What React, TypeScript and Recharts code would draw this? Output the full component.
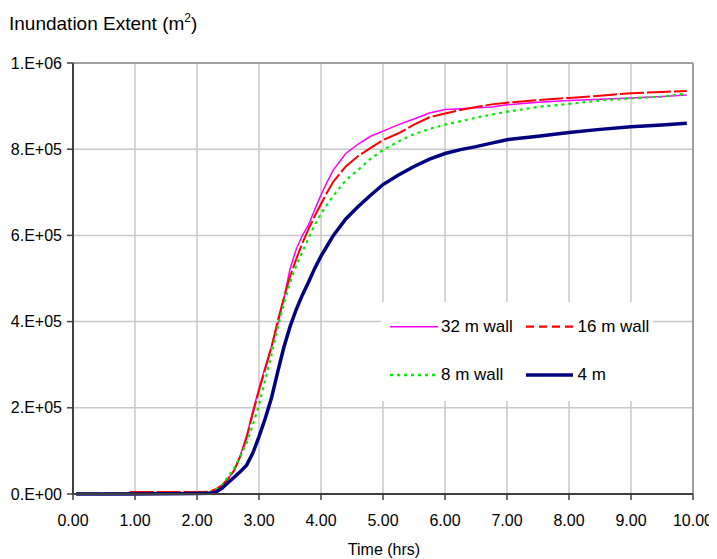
import React from 'react';
import { LineChart, Line, XAxis, YAxis, CartesianGrid, ReferenceLine } from 'recharts';

const times = [0.05, 0.5, 0.85, 0.9, 1.5, 2.0, 2.2,
  2.3, 2.4, 2.5, 2.6, 2.7, 2.8, 2.9, 3.0, 3.1, 3.2, 3.3, 3.4, 3.5, 3.6, 3.7, 3.8, 3.9, 4.0, 4.1,
  4.2, 4.4, 4.6, 4.8, 5.0,
  5.25, 5.5, 5.75, 6.0, 6.25, 6.5, 6.75, 7.0,
  7.5, 8.0, 8.5, 9.0, 9.5, 9.9];

const wall32 = [1000, 1000, 1500, 1500, 2000, 2500, 4000,
  10000, 20000, 35000, 55000, 90000, 135000, 192000, 245000, 295000, 342000, 392000, 452000, 522000, 568000, 600000, 625000, 660000, 694000, 724000,
  752000, 790000, 812000, 830000, 842000,
  857000, 870000, 884000, 892000, 894000, 896000, 898000, 903000,
  909000, 913000, 916000, 919000, 922000, 926000];

const wall16 = [1000, 1000, 1000, 4500, 4500, 4500, 5500,
  11000, 20000, 35000, 55000, 88000, 130000, 187000, 240000, 290000, 340000, 400000, 455000, 504000, 545000, 582000, 615000, 645000, 673000, 700000,
  725000, 760000, 784000, 803000, 821000,
  837000, 857000, 874000, 883000, 891000, 898000, 904000, 908000,
  914000, 919000, 924000, 930000, 933000, 935000];

const wall8 = [1500, 1500, 1500, 1500, 2000, 2500, 4000,
  10000, 20000, 40000, 60000, 88000, 118000, 160000, 207000, 265000, 322000, 385000, 440000, 490000, 530000, 562000, 594000, 625000, 650000, 672000,
  692000, 728000, 752000, 778000, 798000,
  818000, 835000, 847000, 857000, 865000, 873000, 880000, 887000,
  898000, 905000, 913000, 918000, 922000, 929000];

const wall4 = [0, 0, 0, 0, 500, 1000, 1500,
  4000, 13000, 26000, 39000, 52000, 67000, 95000, 133000, 175000, 222000, 282000, 340000, 388000, 428000, 462000, 492000, 524000, 552000, 576000,
  600000, 638000, 667000, 693000, 718000,
  740000, 760000, 777000, 790000, 799000, 806000, 814000, 822000,
  830000, 839000, 846000, 852000, 856000, 860000];

const xTicks = [0, 1, 2, 3, 4, 5, 6, 7, 8, 9, 10];
const xTickLabels = ['0.00', '1.00', '2.00', '3.00', '4.00', '5.00', '6.00', '7.00', '8.00', '9.00', '10.00'];
const yTicks = [0, 200000, 400000, 600000, 800000, 1000000];
const yTickLabels = ['0.E+00', '2.E+05', '4.E+05', '6.E+05', '8.E+05', '1.E+06'];

const seriesNames = ['32 m wall', '16 m wall', '8 m wall', '4 m'];

const data = times.map((t, i) => ({
  t,
  w32: wall32[i],
  w16: wall16[i],
  w8: wall8[i],
  w4: wall4[i],
}));

const FONT = '"Liberation Sans", Arial, Helvetica, sans-serif';
const AXIS = '#404040';

export default function App() {
  return (
    <div style={{ position: 'relative', width: 709, height: 551, fontFamily: FONT }}>
      <LineChart width={709} height={551} data={data} margin={{ top: 55, right: 24, left: 0, bottom: 0 }}>
        <CartesianGrid stroke="#c8c8c8" strokeWidth={1.5} />
        <ReferenceLine y={1000000} stroke="#a0a0a0" strokeWidth={2} />
        <ReferenceLine x={10} stroke="#a0a0a0" strokeWidth={2} />
        <XAxis
          dataKey="t"
          type="number"
          domain={[0, 10]}
          ticks={xTicks}
          tickFormatter={(v: number) => xTickLabels[xTicks.indexOf(v)] ?? String(v)}
          height={65}
          tickSize={6}
          tickMargin={15}
          axisLine={{ stroke: AXIS, strokeWidth: 2 }}
          tickLine={{ stroke: AXIS, strokeWidth: 1.5 }}
          tick={{ fontSize: 16, fill: '#000', fontFamily: FONT }}
          interval={0}
          allowDataOverflow
        />
        <YAxis
          type="number"
          domain={[0, 1000000]}
          ticks={yTicks}
          tickFormatter={(v: number) => yTickLabels[yTicks.indexOf(v)] ?? String(v)}
          width={65}
          tickSize={6}
          tickMargin={5}
          axisLine={{ stroke: AXIS, strokeWidth: 2 }}
          tickLine={{ stroke: AXIS, strokeWidth: 1.5 }}
          tick={{ fontSize: 16, fill: '#000', fontFamily: FONT }}
          interval={0}
        />
        <Line type="linear" dataKey="w32" name={seriesNames[0]} stroke="#ff00ff" strokeWidth={1.5} dot={false} activeDot={false} isAnimationActive={false} />
        <Line type="linear" dataKey="w16" name={seriesNames[1]} stroke="#ff0000" strokeWidth={2} strokeDasharray="24 3" dot={false} activeDot={false} isAnimationActive={false} />
        <Line type="linear" dataKey="w8" name={seriesNames[2]} stroke="#00ee00" strokeWidth={2.2} strokeDasharray="3 4" dot={false} activeDot={false} isAnimationActive={false} />
        <Line type="linear" dataKey="w4" name={seriesNames[3]} stroke="#000080" strokeWidth={3.5} dot={false} activeDot={false} isAnimationActive={false} />
      </LineChart>
      <svg width={709} height={551} style={{ position: 'absolute', left: 0, top: 0, pointerEvents: 'none' }}>
        <text x={1} y={21.5} fontSize={19} fontFamily={FONT} fill="#000">
          Inundation Extent (m<tspan fontSize={12} dy={-8}>2</tspan><tspan dy={8}>)</tspan>
        </text>
        <text x={376} y={547} fontSize={16} fontFamily={FONT} fill="#000" textAnchor="middle">Time (hrs)</text>
        <rect x={373} y={294} width={272} height={99} fill="#fff" />
        <line x1={382} x2={430} y1={318.7} y2={318.7} stroke="#ff00ff" strokeWidth={1.5} />
        <text x={433} y={323.7} fontSize={17} fontFamily={FONT} fill="#000">{seriesNames[0]}</text>
        <line x1={518} x2={565} y1={318.7} y2={318.7} stroke="#ff0000" strokeWidth={2.2} strokeDasharray="8 5" />
        <text x={569.5} y={323.7} fontSize={17} fontFamily={FONT} fill="#000">{seriesNames[1]}</text>
        <line x1={382} x2={430} y1={367} y2={367} stroke="#00ee00" strokeWidth={2.5} strokeDasharray="3 4" />
        <text x={433} y={372} fontSize={17} fontFamily={FONT} fill="#000">{seriesNames[2]}</text>
        <line x1={518} x2={565} y1={367} y2={367} stroke="#000080" strokeWidth={3.5} />
        <text x={569.5} y={372} fontSize={17} fontFamily={FONT} fill="#000">{seriesNames[3]}</text>
      </svg>
    </div>
  );
}
